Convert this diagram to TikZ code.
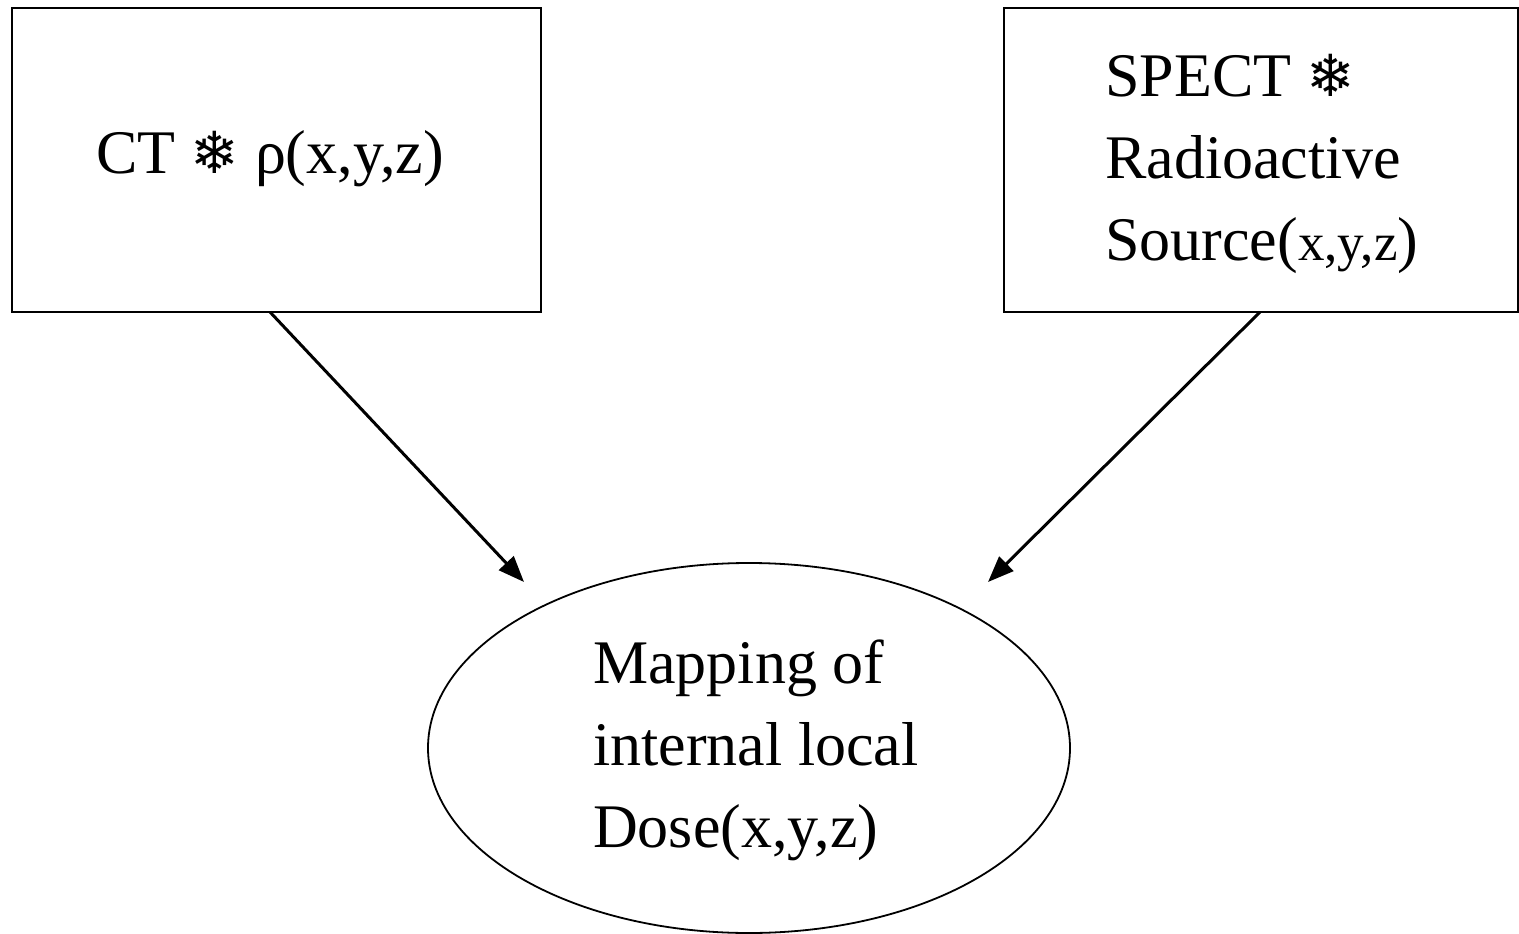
\documentclass[tikz,border=0pt]{standalone}
\usepackage{fontspec}
\setmainfont{Liberation Serif}
\newfontfamily\symfont{DejaVu Sans}
\usetikzlibrary{arrows.meta,shapes.geometric}
\newcommand{\flake}{{\symfont\fontsize{58}{82}\selectfont ❄}}
\tikzset{
  boxstyle/.style={draw, line width=1.8pt, inner sep=0pt},
  labelstyle/.style={inner sep=0pt, align=left, font=\fontsize{62}{82}\selectfont},
  arrowstyle/.style={line width=3pt, -{Triangle[length=26pt,width=20pt]}},
}
\begin{document}
\begin{tikzpicture}[x=1pt,y=-1pt]
\useasboundingbox (0,0) rectangle (1519,934);
\node[boxstyle, minimum width=529pt, minimum height=304pt] (ct) at (276.5,160) {};
\node[boxstyle, minimum width=514pt, minimum height=304pt] (spect) at (1261,160) {};
\node[boxstyle, ellipse, minimum width=642pt, minimum height=370pt] (dose) at (749,748) {};
\node[labelstyle, anchor=base west] (cttext) at (96,173) {CT \flake{} ρ(x,y,z)};
\node[labelstyle, anchor=base west] (specttext) at (1105,260) {SPECT \flake\\Radioactive\\Source({\fontsize{53}{82}\selectfont x,y,z})};
\node[labelstyle, anchor=base west] (dosetext) at (593,847) {Mapping of\\internal local\\Dose(x,y,z)};
\coordinate (ctout) at (270,312);
\coordinate (spectout) at (1260,312);
\coordinate (dosein1) at (524,582);
\coordinate (dosein2) at (988,582);
\draw[arrowstyle] (ctout) -- (dosein1);
\draw[arrowstyle] (spectout) -- (dosein2);
\end{tikzpicture}
\end{document}
